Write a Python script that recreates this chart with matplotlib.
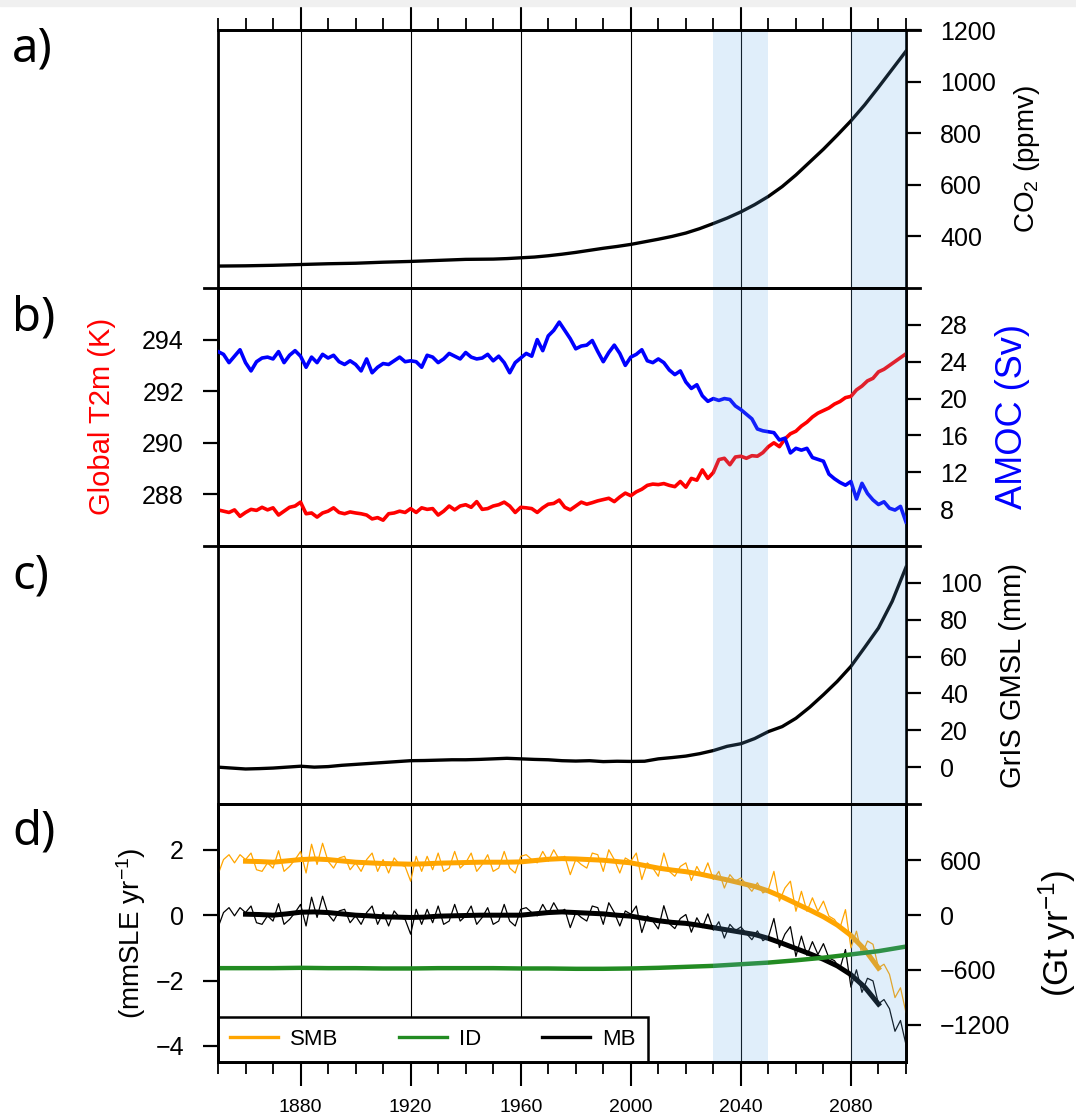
import numpy as np
import matplotlib
matplotlib.use('Agg')
import matplotlib.pyplot as plt
from matplotlib.lines import Line2D
from matplotlib.patches import Rectangle

plt.rcParams['font.family'] = ['Liberation Sans', 'DejaVu Sans']
plt.rcParams['mathtext.fontset'] = 'custom'
plt.rcParams['mathtext.rm'] = 'Liberation Sans'
plt.rcParams['mathtext.it'] = 'Liberation Sans:italic'

# ---- data ----
co2_years = np.arange(1850, 2101, 5)
co2 = [285, 285.5, 286, 287, 288, 289.5, 291, 292.5, 294, 295,
       296, 298, 300, 301.5, 303, 305, 307, 309, 311, 311.5,
       312, 314, 317, 320, 325, 331, 338, 346, 354, 361,
       369, 379, 389, 400, 413, 430, 450, 471, 495, 523,
       555, 593, 638, 688, 738, 792, 848, 910, 978, 1048,
       1118]

years2 = np.arange(1850, 2101, 2)
t2m = [287.40, 287.35, 287.30, 287.40, 287.15, 287.30, 287.42, 287.38, 287.50, 287.40,
       287.48, 287.20, 287.35, 287.50, 287.55, 287.70, 287.25, 287.28, 287.12, 287.28,
       287.35, 287.48, 287.30, 287.25, 287.32, 287.28, 287.25, 287.20, 287.05, 287.10,
       287.00, 287.25, 287.28, 287.35, 287.30, 287.45, 287.30, 287.48, 287.42, 287.45,
       287.20, 287.35, 287.55, 287.40, 287.55, 287.60, 287.50, 287.72, 287.42, 287.45,
       287.55, 287.60, 287.70, 287.55, 287.30, 287.50, 287.48, 287.45, 287.30, 287.48,
       287.62, 287.65, 287.78, 287.50, 287.40, 287.55, 287.70, 287.62, 287.68, 287.75,
       287.80, 287.85, 287.72, 287.90, 288.05, 287.95, 288.10, 288.20, 288.35, 288.40,
       288.38, 288.42, 288.35, 288.30, 288.50, 288.28, 288.62, 288.55, 288.95, 288.62,
       288.85, 289.35, 289.40, 289.15, 289.45, 289.48, 289.40, 289.50, 289.48, 289.62,
       289.85, 290.00, 289.85, 290.15, 290.35, 290.45, 290.65, 290.80, 291.00, 291.15,
       291.25, 291.35, 291.50, 291.60, 291.75, 291.80, 292.05, 292.20, 292.40, 292.50,
       292.75, 292.85, 293.00, 293.15, 293.30, 293.45]
amoc = [25.1, 24.8, 23.9, 24.6, 25.3, 23.9, 23.0, 24.0, 24.4, 24.5,
        24.3, 25.1, 23.9, 24.7, 25.2, 24.6, 23.4, 24.5, 23.9, 24.8,
        24.4, 24.7, 24.0, 23.7, 24.1, 23.7, 23.0, 24.3, 22.8, 23.4,
        23.8, 23.7, 24.1, 24.5, 24.0, 24.1, 24.0, 23.4, 24.7, 24.5,
        23.9, 24.3, 24.9, 24.6, 24.3, 25.0, 24.5, 24.3, 24.4, 24.8,
        24.1, 24.6, 23.9, 22.8, 23.9, 24.4, 24.9, 24.6, 26.4, 25.2,
        26.8, 27.4, 28.3, 27.4, 26.5, 25.4, 25.7, 25.8, 26.3, 25.1,
        24.0, 25.0, 25.8, 24.9, 23.6, 24.5, 24.8, 25.3, 24.1, 23.9,
        24.3, 23.9, 23.1, 22.6, 23.0, 21.8, 21.1, 21.5, 20.3, 19.7,
        20.0, 19.8, 20.0, 19.9, 19.2, 18.8, 18.3, 17.8, 16.7, 16.5,
        16.4, 16.3, 15.5, 15.7, 14.1, 14.6, 14.4, 14.6, 13.6, 13.4,
        13.2, 11.8, 11.3, 10.9, 10.6, 11.0, 9.1, 10.8, 9.7, 9.0,
        8.5, 8.8, 8.1, 7.9, 8.3, 6.6]

gmsl_years = np.arange(1850, 2101, 5)
gmsl = [0.0, -0.5, -1.0, -0.8, -0.5, 0.0, 0.5, 0.0, 0.3, 1.0,
        1.5, 2.0, 2.5, 3.0, 3.5, 3.6, 3.8, 4.0, 4.0, 4.2,
        4.5, 4.8, 4.5, 4.2, 4.0, 3.5, 3.3, 3.5, 3.0, 3.2,
        3.1, 3.2, 4.5, 5.2, 6.0, 7.3, 9.0, 11.3, 12.7, 15.5,
        19.3, 22.0, 26.5, 32.5, 39.3, 46.5, 54.7, 65.0, 75.5, 90.0,
        108.5]

# annual-ish SMB / MB (mmSLE/yr)
smb = [1.24, 1.70, 1.85, 1.60, 1.85, 1.70, 1.90, 1.39, 1.34, 1.60,
       1.44, 1.97, 1.34, 1.49, 1.70, 1.95, 1.29, 2.17, 1.55, 2.20,
       1.65, 1.44, 1.75, 1.80, 1.39, 1.60, 1.34, 1.70, 1.90, 1.34,
       1.70, 1.29, 1.75, 1.55, 1.49, 1.04, 1.80, 1.34, 1.80, 1.39,
       1.90, 1.34, 1.44, 1.95, 1.44, 1.60, 1.90, 1.34, 1.55, 1.85,
       1.34, 1.44, 1.95, 1.44, 1.29, 1.80, 1.85, 1.70, 1.60, 1.95,
       1.65, 2.00, 1.70, 1.80, 1.24, 1.70, 1.55, 1.44, 1.90, 1.85,
       1.34, 2.00, 1.70, 1.29, 1.75, 1.65, 1.90, 1.09, 1.60, 1.44,
       1.19, 1.90, 1.34, 1.19, 1.49, 1.60, 1.06, 1.49, 1.19, 1.60,
       1.09, 1.34, 0.83, 1.24, 1.04, 1.14, 0.93, 0.73, 0.99, 0.68,
       0.78, 1.34, 0.43, 0.83, 1.04, 0.12, 0.73, 0.12, 0.53, 0.12,
       0.43, -0.03, -0.13, -0.39, 0.17, -1.00, -0.49, -1.20, -0.79, -0.89,
       -1.61, -1.50, -1.81, -2.52, -2.22, -2.98]
mb = [-0.38, 0.08, 0.23, -0.02, 0.23, 0.08, 0.28, -0.23, -0.28, -0.02,
      -0.18, 0.35, -0.28, -0.13, 0.08, 0.33, -0.33, 0.55, -0.07, 0.58,
      0.03, -0.18, 0.13, 0.18, -0.23, -0.02, -0.28, 0.08, 0.28, -0.28,
      0.08, -0.33, 0.13, -0.07, -0.13, -0.58, 0.18, -0.28, 0.18, -0.23,
      0.28, -0.28, -0.18, 0.33, -0.18, -0.02, 0.28, -0.28, -0.07, 0.23,
      -0.28, -0.18, 0.33, -0.18, -0.33, 0.18, 0.23, 0.08, -0.02, 0.33,
      0.03, 0.38, 0.08, 0.18, -0.38, 0.08, -0.07, -0.18, 0.28, 0.23,
      -0.28, 0.38, 0.08, -0.33, 0.13, 0.03, 0.28, -0.53, -0.02, -0.18,
      -0.42, 0.29, -0.26, -0.41, -0.10, 0.02, -0.52, -0.08, -0.38, 0.04,
      -0.46, -0.20, -0.70, -0.28, -0.47, -0.36, -0.56, -0.75, -0.48, -0.78,
      -0.67, -0.10, -0.99, -0.58, -0.35, -1.26, -0.64, -1.23, -0.81, -1.20,
      -0.87, -1.31, -1.39, -1.63, -1.05, -2.20, -1.67, -2.36, -1.93, -2.01,
      -2.71, -2.58, -2.86, -3.55, -3.22, -3.96]

smooth_years = np.arange(1860, 2091, 5)
smb_smooth = [1.65, 1.64, 1.62, 1.66, 1.70, 1.72, 1.70, 1.66, 1.62, 1.60,
              1.58, 1.57, 1.56, 1.57, 1.59, 1.60, 1.61, 1.62, 1.62, 1.62,
              1.63, 1.67, 1.71, 1.73, 1.72, 1.70, 1.68, 1.64, 1.60, 1.52,
              1.44, 1.38, 1.33, 1.26, 1.17, 1.08, 0.98, 0.88, 0.74, 0.56,
              0.36, 0.16, -0.05, -0.30, -0.62, -1.05, -1.62]
mb_smooth = [0.03, 0.02, 0.00, 0.04, 0.09, 0.10, 0.08, 0.04, 0.00, -0.02,
             -0.05, -0.06, -0.07, -0.06, -0.03, -0.02, -0.01, 0.00, 0.00, 0.00,
             0.00, 0.04, 0.08, 0.10, 0.08, 0.06, 0.04, 0.00, -0.03, -0.10,
             -0.17, -0.22, -0.25, -0.31, -0.38, -0.45, -0.52, -0.59, -0.71, -0.86,
             -1.02, -1.18, -1.35, -1.55, -1.82, -2.20, -2.72]

id_years = np.arange(1850, 2101, 10)
id_dis = [-1.62, -1.62, -1.62, -1.61, -1.62, -1.62, -1.63, -1.63, -1.62, -1.62,
          -1.62, -1.63, -1.63, -1.64, -1.64, -1.63, -1.61, -1.58, -1.55, -1.50,
          -1.45, -1.38, -1.30, -1.20, -1.10, -0.96]

grid_years = [1880, 1920, 1960, 2000, 2040, 2080]
shade_spans = [(2030, 2050), (2080, 2100)]

W, H = 1076, 1115


def rect(top, bottom):
    return [218 / W, 1 - bottom / H, 688 / W, (bottom - top) / H]


def fx(px):
    return px / W


def fy(py):
    return 1 - py / H


def style(ax):
    ax.set_xlim(1850, 2100)
    for s in ax.spines.values():
        s.set_linewidth(2)
    ax.tick_params(axis='x', which='both', bottom=False, top=False,
                   labelbottom=False, labeltop=False)
    for yr in grid_years:
        ax.axvline(yr, color='k', lw=0.8, zorder=1)


def yticks(ax):
    ax.tick_params(axis='y', which='major', direction='out', length=10.5,
                   width=1.6, pad=14, labelsize=18)


def shade(ax):
    for s, e in shade_spans:
        ax.axvspan(s, e, color='#64aae6', alpha=0.2, lw=0, zorder=20)


def xticks(ax):
    ax.set_xticks(grid_years)
    ax.set_xticks(np.arange(1850, 2101, 10), minor=True)


fig = plt.figure(figsize=(W / 100, H / 100), dpi=100)
fig.patches.append(Rectangle((0, fy(6)), 1, 6 / H, transform=fig.transFigure,
                             color='#f0f0f0', zorder=0))

# a) CO2
ax_a = fig.add_axes(rect(30, 288))
style(ax_a)
ax_a.plot(co2_years, co2, color='k', lw=2.4, zorder=5)
ax_a.set_ylim(200, 1200)
ax_a.yaxis.tick_right()
ax_a.set_yticks([400, 600, 800, 1000, 1200])
yticks(ax_a)
xticks(ax_a)
ax_a.tick_params(axis='x', which='major', top=True, direction='out', length=17, width=1.5)
ax_a.tick_params(axis='x', which='minor', top=True, direction='out', length=9, width=1.3)
shade(ax_a)

# b) T2m / AMOC
ax_b = fig.add_axes(rect(288, 546))
style(ax_b)
ax_b.plot(years2, t2m, color='#ff0000', lw=2.6, zorder=5)
ax_b.set_ylim(286, 296)
ax_b.set_yticks([288, 290, 292, 294])
yticks(ax_b)
ax_b2 = ax_b.twinx()
ax_b2.plot(years2, amoc, color='#0000ff', lw=2.6, zorder=5)
ax_b2.set_xlim(1850, 2100)
ax_b2.set_ylim(4, 32)
ax_b2.set_yticks([8, 12, 16, 20, 24, 28])
ax_b2.tick_params(axis='x', which='both', bottom=False, top=False)
for s in ax_b2.spines.values():
    s.set_linewidth(2)
yticks(ax_b2)
shade(ax_b2)

# c) GMSL
ax_c = fig.add_axes(rect(546, 804))
style(ax_c)
ax_c.plot(gmsl_years, gmsl, color='k', lw=2.4, zorder=5)
ax_c.set_ylim(-20, 120)
ax_c.yaxis.tick_right()
ax_c.set_yticks([0, 20, 40, 60, 80, 100])
yticks(ax_c)
shade(ax_c)

# d) mass balance
ax_d = fig.add_axes(rect(804, 1062))
style(ax_d)
ax_d.plot(years2, smb, color='#ffa500', lw=0.9, zorder=4)
l_smb, = ax_d.plot(smooth_years, smb_smooth, color='#ffa500', lw=3.6, zorder=5, label='SMB')
ax_d.plot(years2, mb, color='k', lw=0.9, zorder=4)
l_mb, = ax_d.plot(smooth_years, mb_smooth, color='k', lw=3.6, zorder=5, label='MB')
l_id, = ax_d.plot(id_years, id_dis, color='#228b22', lw=3.2, zorder=6, label='ID')
ax_d.set_ylim(-4.49, 3.40)
ax_d.set_yticks([-4, -2, 0, 2])
yticks(ax_d)
xticks(ax_d)
ax_d.tick_params(axis='x', which='major', bottom=True, labelbottom=True, direction='out',
                 length=17, width=1.5, labelsize=14, pad=10)
ax_d.tick_params(axis='x', which='minor', bottom=True, direction='out', length=8.5, width=1.3)
shade(ax_d)
leg = ax_d.legend([l_smb, l_id, l_mb], ['SMB', 'ID', 'MB'], ncol=3, loc='lower left',
                  bbox_to_anchor=(0, 0, 0.625, 1), mode='expand', borderaxespad=0,
                  fontsize=16, fancybox=False, edgecolor='k', framealpha=1,
                  handlelength=2.15, handletextpad=0.55, borderpad=0.55)
leg.get_frame().set_linewidth(1.8)
for h in leg.get_lines():
    h.set_linewidth(2.4)

ax_d2 = ax_d.twinx()
ax_d2.set_xlim(1850, 2100)
ax_d2.set_ylim(-4.49 * 358, 3.40 * 358)
ax_d2.set_yticks([-1200, -600, 0, 600])
ax_d2.tick_params(axis='x', which='both', bottom=False, top=False)
for s in ax_d2.spines.values():
    s.set_linewidth(2)
yticks(ax_d2)

# panel borders that run past the axes
for y, x0, x1 in [(30, 218, 920), (288, 204, 920), (546, 204, 920), (804, 218, 920)]:
    fig.add_artist(Line2D([fx(x0), fx(x1)], [fy(y), fy(y)], color='k', lw=2))

# axis titles
fig.text(fx(1027), fy(159), 'CO$_2$ (ppmv)', rotation=90, ha='center', va='center', fontsize=20)
fig.text(fx(102), fy(416), 'Global T2m (K)', rotation=90, ha='center', va='center',
         fontsize=21, color='#ff0000')
fig.text(fx(1012), fy(416), 'AMOC (Sv)', rotation=90, ha='center', va='center',
         fontsize=26, color='#0000ff')
fig.text(fx(1013), fy(675), 'GrIS GMSL (mm)', rotation=90, ha='center', va='center', fontsize=21)
fig.text(fx(131), fy(933), '(mmSLE yr$^{-1}$)', rotation=90, ha='center', va='center', fontsize=20)
fig.text(fx(1057), fy(933), '(Gt yr$^{-1}$)', rotation=90, ha='center', va='center', fontsize=25)

for lab, y in [('a)', 49), ('b)', 318), ('c)', 576), ('d)', 832)]:
    fig.text(fx(12), fy(y), lab, ha='left', va='center', fontsize=34,
             family=['Noto Sans', 'DejaVu Sans'])

fig.savefig('out.png', dpi=100)
